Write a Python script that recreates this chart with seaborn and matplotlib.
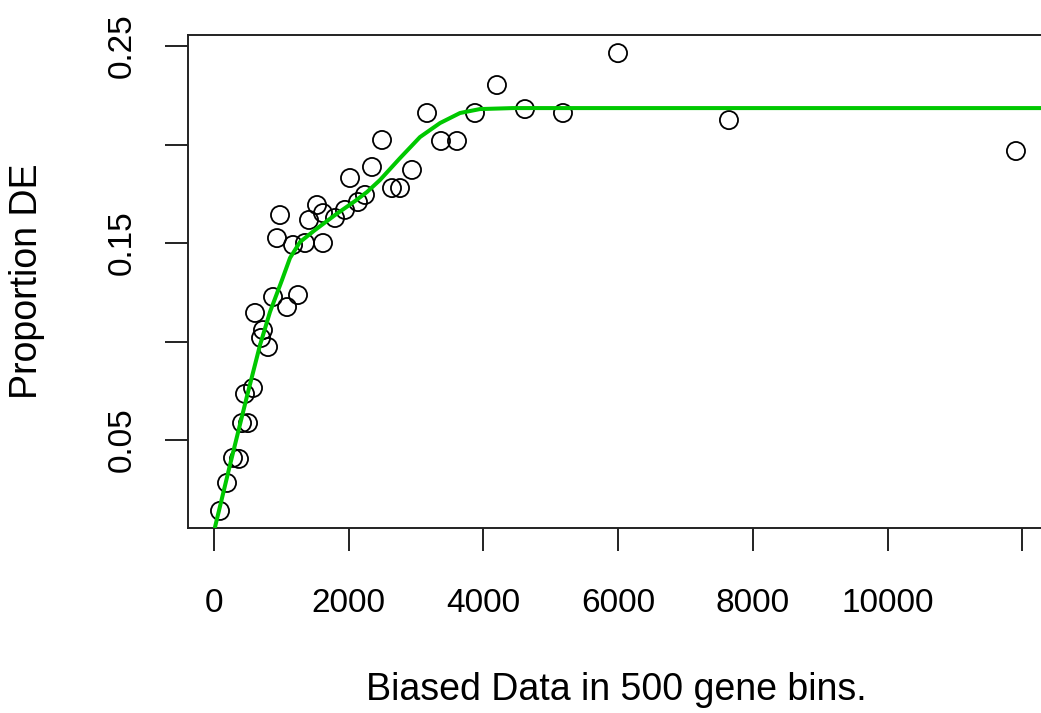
import numpy as np
import pandas as pd
import seaborn as sns
from matplotlib import pyplot as plt

# binned data: mean position vs proportion DE
bin_x = [89, 193, 282, 371, 416, 505, 460, 579, 609, 727, 698, 802, 876, 1084,
         1247, 980, 935, 1173, 1351, 1618, 1529, 1410, 1618, 1796, 1944, 2137,
         2241, 2019, 2345, 2494, 2642, 2761, 2939, 3162, 3369, 3607, 3874, 4200,
         4616, 5180, 5997, 7644, 11904]
prop_de = [0.0140, 0.0282, 0.0409, 0.0404, 0.0586, 0.0586, 0.0734, 0.0764,
           0.1145, 0.1058, 0.1018, 0.0972, 0.1226, 0.1175, 0.1236, 0.1642,
           0.1525, 0.1490, 0.1500, 0.1500, 0.1693, 0.1617, 0.1652, 0.1627,
           0.1668, 0.1708, 0.1744, 0.1830, 0.1886, 0.2023, 0.1779, 0.1779,
           0.1871, 0.2160, 0.2018, 0.2018, 0.2160, 0.2302, 0.2180, 0.2160,
           0.2464, 0.2124, 0.1967]

# fitted curve
fit_x = [15, 237, 490, 683, 831, 1009, 1128, 1276, 1499, 1796, 2093, 2271,
         2464, 2761, 3058, 3355, 3652, 3948, 4438, 6917, 12409]
fit_y = [0.0058, 0.0373, 0.0723, 0.0982, 0.1150, 0.1312, 0.1424, 0.1505,
         0.1566, 0.1642, 0.1713, 0.1759, 0.1820, 0.1931, 0.2038, 0.2109,
         0.2160, 0.2180, 0.2185, 0.2185, 0.2185]

x_ticks = [0, 2000, 4000, 6000, 8000, 10000, 12000]
x_labels = ["0", "2000", "4000", "6000", "8000", "10000", ""]
y_ticks = [0.05, 0.10, 0.15, 0.20, 0.25]
y_labels = ["0.05", "", "0.15", "", "0.25"]

pts = pd.DataFrame({"x": bin_x, "y": prop_de})
fit = pd.DataFrame({"x": fit_x, "y": fit_y})

sns.set_style("ticks")
plt.rcParams["font.family"] = ["Liberation Sans", "DejaVu Sans"]
plt.rcParams["axes.labelcolor"] = "black"

fig = plt.figure(figsize=(10.41, 7.13), dpi=100)
ax = fig.add_axes([188 / 1041, (713 - 528) / 713, (1052 - 188) / 1041, (528 - 35) / 713])

sns.scatterplot(data=pts, x="x", y="y", ax=ax, marker="o", s=170,
                facecolor="none", edgecolor="black", linewidth=1.3, zorder=2)
sns.lineplot(data=fit, x="x", y="y", ax=ax, color="#00c800", linewidth=2.9,
             zorder=3, sort=False)

ax.set_xlim(-386, 12439)
ax.set_ylim(0.00533, 0.2556)
ax.set_xticks(x_ticks)
ax.set_xticklabels(x_labels)
ax.set_yticks(y_ticks)
ax.set_yticklabels(y_labels, rotation=90, va="center")

for s in ax.spines.values():
    s.set_visible(True)
    s.set_color("#222222")
    s.set_linewidth(1.4)

ax.tick_params(axis="both", direction="out", length=16.5, width=1.4,
               color="#222222", labelsize=24, labelcolor="black",
               bottom=True, left=True)
ax.tick_params(axis="x", pad=27)
ax.tick_params(axis="y", pad=20)

ax.set_xlabel("Biased Data in 500 gene bins.", fontsize=27)
ax.set_ylabel("Proportion DE", fontsize=27)
ax.xaxis.set_label_coords(0.496, -0.292)
ax.yaxis.set_label_coords(-0.166, 0.5)
ax.grid(False)

fig.savefig("out.png", dpi=100)
